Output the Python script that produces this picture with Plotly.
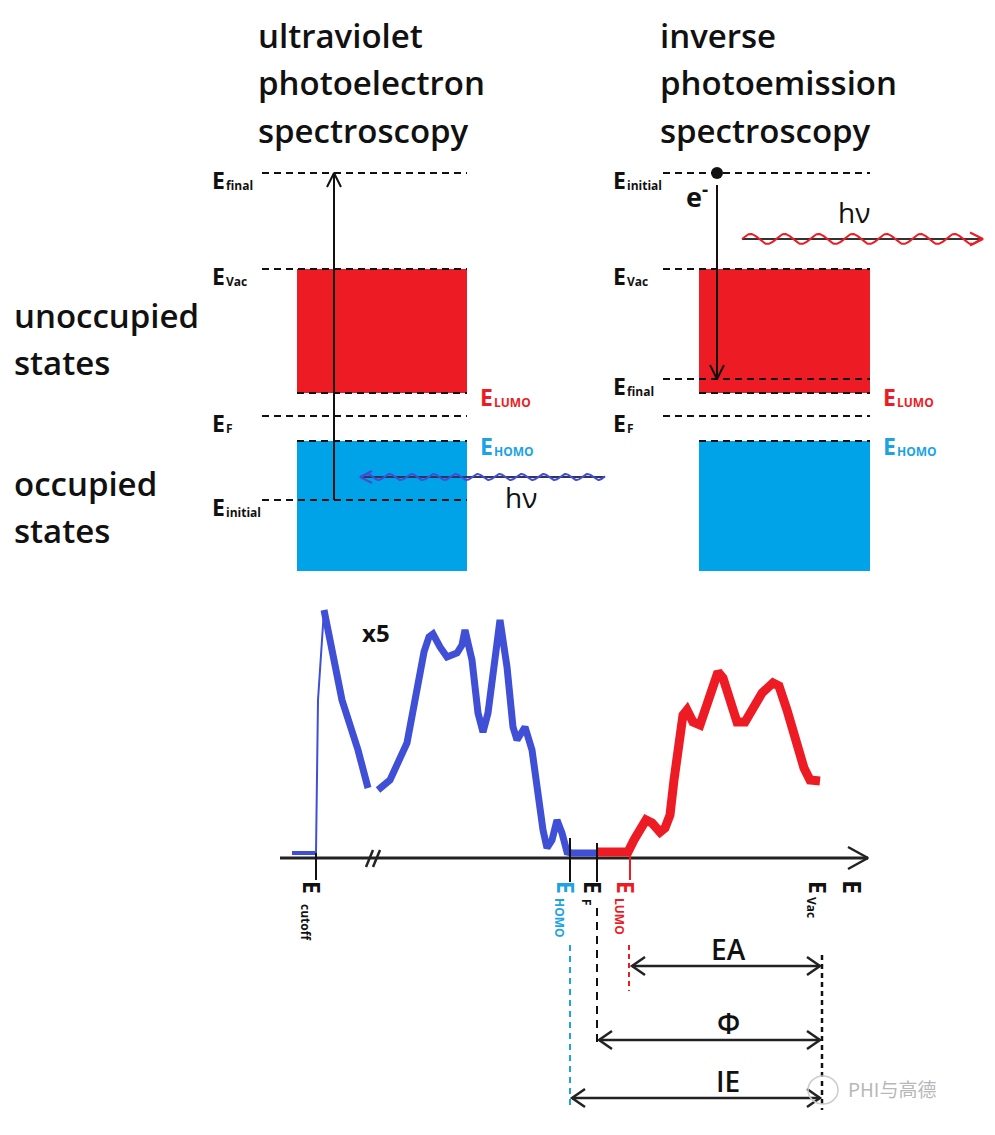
import numpy as np
import plotly.graph_objects as go

W, H = 995, 1135

# ---------------- text content ----------------
ups_title = ["ultraviolet", "photoelectron", "spectroscopy"]
ipes_title = ["inverse", "photoemission", "spectroscopy"]
title_rows = [35, 82, 130]
side_labels = ["unoccupied", "states", "occupied", "states"]
side_rows = [315, 362, 483, 530]

# ---------------- energy-level diagrams (px from top) ----------------
ups_levels = ["final", "Vac", "F", "initial"]
ups_level_y = [173, 269, 416, 500]
ipes_levels = ["initial", "Vac", "final", "F"]
ipes_level_y = [173, 269, 379, 416]
lumo_y, homo_y, vac_y, band_bottom = 393, 441, 269, 571
ups_panel_x = [262, 297, 467]    # level-line start, band left, band right
ipes_panel_x = [663, 699, 870]

# ---------------- spectrum (UPS blue, IPES red) ----------------
cutoff_x = [292, 316]
cutoff_y = [853, 853]
rise_x = [316, 318, 324]
rise_y = [853, 700, 610]
ups1_x = [324, 330, 336, 342, 350, 358, 368]
ups1_y = [610, 640, 672, 700, 725, 750, 788]
ups2_x = [378, 390, 407, 417, 424, 429, 433, 440, 447, 457, 462, 465, 472, 478,
          483, 488, 495, 500, 507, 513, 517, 525, 532, 538, 543, 547, 552, 557,
          562, 567, 572, 597]
ups2_y = [790, 780, 743, 693, 652, 637, 634, 647, 657, 653, 645, 630, 660, 713,
          732, 713, 650, 620, 667, 727, 740, 727, 750, 800, 830, 848, 840, 820,
          833, 852, 853, 853]
ipes_x = [597, 628, 634, 640, 646, 652, 660, 665, 670, 674, 678, 683, 687, 693,
          700, 705, 712, 718, 723, 730, 737, 745, 752, 762, 773, 779, 787, 797,
          804, 810, 820]
ipes_y = [852, 852, 840, 828, 820, 823, 832, 828, 815, 780, 745, 715, 710, 722,
          725, 710, 685, 672, 678, 700, 722, 722, 710, 693, 683, 686, 710, 745,
          768, 780, 781]

axis_y = 858
axis_x = [280, 868]
tick_names = ["cutoff", "HOMO", "F", "LUMO", "Vac"]
tick_x = [316, 570, 597, 630, 822]

# energy differences: (name, from x, to x, row)
gap_names = ["EA", "Φ", "IE"]
gap_from = [632, 599, 572]
gap_to = [820, 820, 820]
gap_row = [966, 1040, 1098]

RED = "#ED1C24"
SKY = "#00A2E8"
CYAN = "#1BA3E6"
BLUE = "#3F4FD6"
BLK = "#111111"

fig = go.Figure()


def line(xs, ys, color=BLK, width=2, dash=None):
    fig.add_trace(go.Scatter(x=xs, y=ys, mode="lines",
                             line=dict(color=color, width=width, dash=dash,
                                       shape="linear"),
                             hoverinfo="skip", showlegend=False))


def vhead(tx, ty, dx, dy, L=14, spread=0.55, color=BLK, width=2):
    n = np.hypot(dx, dy)
    ux, uy = dx / n, dy / n
    px, py = -uy, ux
    bx, by = tx - ux * L, ty - uy * L
    line([bx + px * L * spread, tx, bx - px * L * spread],
         [by + py * L * spread, ty, by - py * L * spread], color, width)


def text(x, y, s, size, color=BLK, weight=700, xanchor="left",
         yanchor="middle", angle=0, family="Open Sans"):
    fig.add_annotation(x=x, y=y, text=s, showarrow=False, xanchor=xanchor,
                       yanchor=yanchor, textangle=angle,
                       font=dict(size=size, color=color, family=family,
                                 weight=weight))


def elabel(x, y, sub, color=BLK, esize=23, ssize=12):
    text(x, y, "E", esize, color)
    text(x + 14, y + 5, sub, ssize, color)


# ---------------- bands ----------------
for (lx, bl, br) in (ups_panel_x, ipes_panel_x):
    fig.add_shape(type="rect", x0=bl, x1=br, y0=vac_y, y1=lumo_y,
                  fillcolor=RED, line=dict(width=0), layer="below")
    fig.add_shape(type="rect", x0=bl, x1=br, y0=homo_y, y1=band_bottom,
                  fillcolor=SKY, line=dict(width=0), layer="below")

# level lines
for names, ys, (lx, bl, br) in ((ups_levels, ups_level_y, ups_panel_x),
                               (ipes_levels, ipes_level_y, ipes_panel_x)):
    for nm, yy in zip(names, ys):
        line([lx, br], [yy, yy], BLK, 2, "7px,5px")
        elabel(lx - 52, yy + 7, nm)
    line([bl, br], [lumo_y, lumo_y], BLK, 2, "7px,5px")
    line([bl, br], [homo_y, homo_y], BLK, 2, "7px,5px")
    elabel(br + 11, lumo_y + 4, "LUMO", RED, 23, 12)
    elabel(br + 11, homo_y + 5, "HOMO", CYAN, 23, 12)

# UPS excitation arrow
line([334, 334], [ups_level_y[3], ups_level_y[0]], BLK, 2)
vhead(334, ups_level_y[0], 0, -1, 14, 0.5)

# UPS incoming photon (blue wave, arrow to the left)
wx = np.linspace(362, 605, 400)
line([360, 605], [477, 477], "#333355", 2)
line(list(wx), list(477 - 3.0 * np.sin((wx - 362) / 22 * 2 * np.pi)), BLUE, 2)
vhead(360, 477, -1, 0, 12, 0.5, BLUE, 2)
text(503, 497, "hν", 28, BLK, 500)

# IPES electron and arrow
fig.add_trace(go.Scatter(x=[717], y=[173], mode="markers",
                         marker=dict(size=12, color=BLK), hoverinfo="skip",
                         showlegend=False))
line([717, 717], [185, ipes_level_y[2]], BLK, 2)
vhead(717, ipes_level_y[2], 0, 1, 14, 0.5)
text(684, 195, "e<sup>-</sup>", 27, BLK, 700)

# IPES outgoing photon (red wave, arrow to the right)
wx2 = np.linspace(742, 980, 400)
line([742, 983], [239, 239], "#333333", 2)
line(list(wx2), list(239 - 5.0 * np.sin((wx2 - 742) / 34 * 2 * np.pi)), RED, 2)
vhead(983, 239, 1, 0, 13, 0.5, RED, 2)
text(836, 212, "hν", 28, BLK, 500)

# ---------------- titles and side labels ----------------
for s, yy in zip(ups_title, title_rows):
    text(256, yy, s, 33, BLK, 600)
for s, yy in zip(ipes_title, title_rows):
    text(658, yy, s, 33, BLK, 600)
for s, yy in zip(side_labels, side_rows):
    text(12, yy, s, 33, BLK, 600)

# ---------------- spectrum ----------------
line(axis_x, [axis_y, axis_y], "#222222", 3)
vhead(axis_x[1], axis_y, 1, 0, 20, 0.55, "#222222", 2.5)
line([366, 373], [867, 850], "#222222", 2.5)
line([373, 380], [867, 850], "#222222", 2.5)

line(cutoff_x, cutoff_y, BLUE, 4)
line(rise_x, rise_y, BLUE, 2)
line(ups1_x, ups1_y, BLUE, 7)
line(ups2_x, ups2_y, BLUE, 7)
line(ipes_x, ipes_y, RED, 9)
text(360, 632, "x5", 24, BLK, 700)

# ticks
line([tick_x[0]] * 2, [853, 880], BLK, 2)
line([tick_x[1]] * 2, [838, 882], BLK, 2)
line([tick_x[2]] * 2, [843, 882], BLK, 2)
line([tick_x[3]] * 2, [853, 880], RED, 2)

# rotated tick labels
tick_col = [BLK, CYAN, BLK, RED, BLK]
tick_sub_y = [922, 918, 902, 916, 907]
for nm, tx, col, sy in zip(tick_names, tick_x, tick_col, tick_sub_y):
    text(tx - 4, 887, "E", 23, col, 700, "center", "middle", 90)
    text(tx - 10, sy, nm, 12, col, 700, "center", "middle", 90)
text(853, 887, "E", 25, BLK, 700, "center", "middle", 90)

# dashed guide lines
line([570, 570], [945, 1106], CYAN, 2, "6px,5px")
line([597, 597], [908, 1043], BLK, 2, "8px,6px")
line([629, 629], [945, 991], RED, 2, "5px,4px")
line([822, 822], [955, 1110], BLK, 2.5, "5px,4px")

# energy-difference arrows
for nm, x0, x1, yy in zip(gap_names, gap_from, gap_to, gap_row):
    line([x0, x1], [yy, yy], "#222222", 2.5)
    vhead(x0, yy, -1, 0, 13, 0.7, "#222222", 2.5)
    vhead(x1, yy, 1, 0, 13, 0.7, "#222222", 2.5)
    text(728, yy - 17, nm, 28, BLK, 600, "center", "middle")

# watermark
fig.add_shape(type="circle", x0=808, x1=838, y0=1076, y1=1104,
              line=dict(color="#cccccc", width=1.5))
text(846, 1088, "PHI与高德", 19, "#b8b8b8", 400,
     family="Noto Sans CJK SC")

fig.update_layout(
    width=W, height=H, margin=dict(l=0, r=0, t=0, b=0),
    paper_bgcolor="white", plot_bgcolor="white",
    xaxis=dict(range=[0, W], visible=False, fixedrange=True),
    yaxis=dict(range=[H, 0], visible=False, fixedrange=True),
    showlegend=False,
)

fig.write_html("out.html",
               config={"displayModeBar": False},
               post_script="document.body.style.margin='0';"
                           "document.body.style.overflow='hidden';")
